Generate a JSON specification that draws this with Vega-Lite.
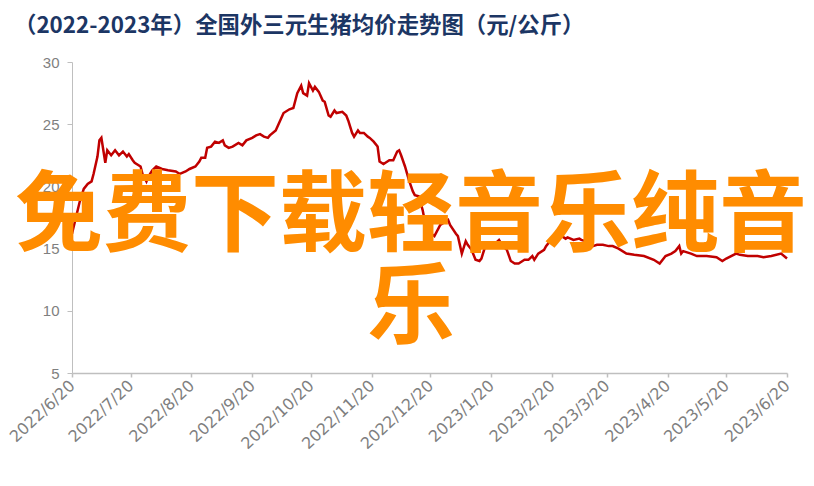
{
  "$schema": "https://vega.github.io/schema/vega-lite/v6.json",
  "autosize": {"type": "none"},
  "width": 715,
  "height": 311,
  "padding": {"left": 72, "top": 62, "right": 27, "bottom": 113},
  "background": "#ffffff",
  "config": {"view": {"stroke": null}},
  "title": {
    "text": "（2022-2023年）全国外三元生猪均价走势图（元/公斤）",
    "anchor": "start",
    "frame": "group",
    "dx": -58,
    "offset": 0,
    "baseline": "alphabetic",
    "font": "Noto Sans CJK SC",
    "fontSize": 22.4,
    "fontWeight": "bold",
    "color": "#1c3664"
  },
  "datasets": {
    "price": [
      {"date": "2022-06-20", "value": 16.2},
      {"date": "2022-06-22", "value": 17.5},
      {"date": "2022-06-24", "value": 18.8},
      {"date": "2022-06-26", "value": 19.8},
      {"date": "2022-06-28", "value": 20.2},
      {"date": "2022-06-30", "value": 20.4},
      {"date": "2022-07-01", "value": 21.0},
      {"date": "2022-07-03", "value": 22.4},
      {"date": "2022-07-04", "value": 23.7},
      {"date": "2022-07-05", "value": 23.9},
      {"date": "2022-07-07", "value": 21.9},
      {"date": "2022-07-08", "value": 22.9},
      {"date": "2022-07-10", "value": 22.5},
      {"date": "2022-07-12", "value": 22.9},
      {"date": "2022-07-14", "value": 22.5},
      {"date": "2022-07-16", "value": 22.8},
      {"date": "2022-07-18", "value": 22.4},
      {"date": "2022-07-19", "value": 22.6},
      {"date": "2022-07-21", "value": 22.1},
      {"date": "2022-07-22", "value": 21.9},
      {"date": "2022-07-25", "value": 21.6},
      {"date": "2022-07-26", "value": 21.0},
      {"date": "2022-07-28", "value": 20.4},
      {"date": "2022-07-29", "value": 20.8},
      {"date": "2022-07-31", "value": 21.3},
      {"date": "2022-08-02", "value": 21.6},
      {"date": "2022-08-05", "value": 21.4},
      {"date": "2022-08-08", "value": 21.3},
      {"date": "2022-08-12", "value": 21.2},
      {"date": "2022-08-14", "value": 21.0},
      {"date": "2022-08-17", "value": 21.2},
      {"date": "2022-08-19", "value": 21.4},
      {"date": "2022-08-22", "value": 21.6},
      {"date": "2022-08-24", "value": 22.0},
      {"date": "2022-08-25", "value": 22.3},
      {"date": "2022-08-27", "value": 22.3},
      {"date": "2022-08-28", "value": 23.1},
      {"date": "2022-08-30", "value": 23.2},
      {"date": "2022-09-01", "value": 23.6},
      {"date": "2022-09-03", "value": 23.5},
      {"date": "2022-09-05", "value": 23.7},
      {"date": "2022-09-06", "value": 23.3},
      {"date": "2022-09-08", "value": 23.1},
      {"date": "2022-09-10", "value": 23.2},
      {"date": "2022-09-13", "value": 23.5},
      {"date": "2022-09-15", "value": 23.3},
      {"date": "2022-09-17", "value": 23.7},
      {"date": "2022-09-20", "value": 23.9},
      {"date": "2022-09-22", "value": 24.1},
      {"date": "2022-09-24", "value": 24.2},
      {"date": "2022-09-26", "value": 24.0},
      {"date": "2022-09-28", "value": 23.9},
      {"date": "2022-09-29", "value": 24.1},
      {"date": "2022-10-02", "value": 24.5},
      {"date": "2022-10-04", "value": 25.2},
      {"date": "2022-10-06", "value": 25.9},
      {"date": "2022-10-09", "value": 26.2},
      {"date": "2022-10-11", "value": 26.3},
      {"date": "2022-10-13", "value": 27.5},
      {"date": "2022-10-15", "value": 28.1},
      {"date": "2022-10-16", "value": 27.5},
      {"date": "2022-10-18", "value": 27.3},
      {"date": "2022-10-19", "value": 28.3},
      {"date": "2022-10-21", "value": 27.7},
      {"date": "2022-10-22", "value": 28.0},
      {"date": "2022-10-24", "value": 27.6},
      {"date": "2022-10-26", "value": 26.9},
      {"date": "2022-10-27", "value": 26.8},
      {"date": "2022-10-29", "value": 25.7},
      {"date": "2022-10-30", "value": 25.6},
      {"date": "2022-11-01", "value": 26.1},
      {"date": "2022-11-02", "value": 25.9},
      {"date": "2022-11-05", "value": 26.0},
      {"date": "2022-11-07", "value": 25.7},
      {"date": "2022-11-08", "value": 25.3},
      {"date": "2022-11-10", "value": 24.3},
      {"date": "2022-11-11", "value": 24.0},
      {"date": "2022-11-13", "value": 24.5},
      {"date": "2022-11-14", "value": 24.3},
      {"date": "2022-11-16", "value": 24.3},
      {"date": "2022-11-18", "value": 24.0},
      {"date": "2022-11-19", "value": 23.9},
      {"date": "2022-11-21", "value": 23.6},
      {"date": "2022-11-23", "value": 23.2},
      {"date": "2022-11-24", "value": 22.0},
      {"date": "2022-11-26", "value": 21.8},
      {"date": "2022-11-28", "value": 22.0},
      {"date": "2022-11-29", "value": 22.1},
      {"date": "2022-12-01", "value": 22.1},
      {"date": "2022-12-03", "value": 22.8},
      {"date": "2022-12-04", "value": 22.9},
      {"date": "2022-12-05", "value": 22.5},
      {"date": "2022-12-07", "value": 21.6},
      {"date": "2022-12-09", "value": 20.5},
      {"date": "2022-12-11", "value": 19.6},
      {"date": "2022-12-12", "value": 19.3},
      {"date": "2022-12-14", "value": 19.2},
      {"date": "2022-12-16", "value": 18.1},
      {"date": "2022-12-18", "value": 16.5},
      {"date": "2022-12-22", "value": 16.0},
      {"date": "2022-12-25", "value": 16.9},
      {"date": "2022-12-28", "value": 17.2},
      {"date": "2022-12-29", "value": 17.3},
      {"date": "2022-12-30", "value": 16.9},
      {"date": "2023-01-02", "value": 16.2},
      {"date": "2023-01-03", "value": 16.0},
      {"date": "2023-01-05", "value": 14.6},
      {"date": "2023-01-07", "value": 15.6},
      {"date": "2023-01-08", "value": 15.3},
      {"date": "2023-01-10", "value": 14.9},
      {"date": "2023-01-12", "value": 14.1},
      {"date": "2023-01-14", "value": 14.0},
      {"date": "2023-01-15", "value": 14.2},
      {"date": "2023-01-17", "value": 15.2},
      {"date": "2023-01-19", "value": 15.3},
      {"date": "2023-01-20", "value": 15.2},
      {"date": "2023-01-22", "value": 15.4},
      {"date": "2023-01-24", "value": 15.7},
      {"date": "2023-01-26", "value": 15.2},
      {"date": "2023-01-28", "value": 14.9},
      {"date": "2023-01-30", "value": 14.0},
      {"date": "2023-02-01", "value": 13.8},
      {"date": "2023-02-03", "value": 13.8},
      {"date": "2023-02-05", "value": 14.0},
      {"date": "2023-02-06", "value": 14.1},
      {"date": "2023-02-08", "value": 14.1},
      {"date": "2023-02-10", "value": 14.4},
      {"date": "2023-02-11", "value": 14.1},
      {"date": "2023-02-13", "value": 14.6},
      {"date": "2023-02-16", "value": 14.9},
      {"date": "2023-02-17", "value": 15.2},
      {"date": "2023-02-19", "value": 15.6},
      {"date": "2023-02-22", "value": 15.7},
      {"date": "2023-02-23", "value": 15.7},
      {"date": "2023-02-25", "value": 16.0},
      {"date": "2023-02-27", "value": 15.8},
      {"date": "2023-02-28", "value": 15.9},
      {"date": "2023-03-03", "value": 15.7},
      {"date": "2023-03-06", "value": 15.8},
      {"date": "2023-03-07", "value": 15.7},
      {"date": "2023-03-09", "value": 15.6},
      {"date": "2023-03-12", "value": 15.4},
      {"date": "2023-03-13", "value": 15.2},
      {"date": "2023-03-15", "value": 15.3},
      {"date": "2023-03-18", "value": 15.3},
      {"date": "2023-03-21", "value": 15.2},
      {"date": "2023-03-23", "value": 15.2},
      {"date": "2023-03-26", "value": 15.0},
      {"date": "2023-03-30", "value": 14.6},
      {"date": "2023-04-03", "value": 14.5},
      {"date": "2023-04-08", "value": 14.4},
      {"date": "2023-04-13", "value": 14.1},
      {"date": "2023-04-16", "value": 13.8},
      {"date": "2023-04-19", "value": 14.4},
      {"date": "2023-04-22", "value": 14.6},
      {"date": "2023-04-24", "value": 14.8},
      {"date": "2023-04-26", "value": 15.2},
      {"date": "2023-04-27", "value": 14.6},
      {"date": "2023-04-28", "value": 14.8},
      {"date": "2023-05-02", "value": 14.6},
      {"date": "2023-05-05", "value": 14.4},
      {"date": "2023-05-10", "value": 14.4},
      {"date": "2023-05-15", "value": 14.3},
      {"date": "2023-05-18", "value": 14.0},
      {"date": "2023-05-20", "value": 14.2},
      {"date": "2023-05-25", "value": 14.6},
      {"date": "2023-05-27", "value": 14.5},
      {"date": "2023-05-31", "value": 14.4},
      {"date": "2023-06-05", "value": 14.4},
      {"date": "2023-06-08", "value": 14.3},
      {"date": "2023-06-12", "value": 14.4},
      {"date": "2023-06-17", "value": 14.6},
      {"date": "2023-06-20", "value": 14.2}
    ],
    "overlay": [
      {"date": "2022-12-10", "value": 17.5, "label": "免费下载轻音乐纯音"},
      {"date": "2022-12-10", "value": 10.1, "label": "乐"}
    ]
  },
  "encoding": {
    "x": {
      "field": "date",
      "type": "temporal",
      "scale": {
        "type": "utc",
        "domain": [
          {"year": 2022, "month": 6, "date": 20, "utc": true},
          {"year": 2023, "month": 6, "date": 20, "utc": true}
        ],
        "nice": false
      },
      "axis": {
        "title": null,
        "grid": false,
        "values": [
          {"year": 2022, "month": 6, "date": 20, "utc": true},
          {"year": 2022, "month": 7, "date": 20, "utc": true},
          {"year": 2022, "month": 8, "date": 20, "utc": true},
          {"year": 2022, "month": 9, "date": 20, "utc": true},
          {"year": 2022, "month": 10, "date": 20, "utc": true},
          {"year": 2022, "month": 11, "date": 20, "utc": true},
          {"year": 2022, "month": 12, "date": 20, "utc": true},
          {"year": 2023, "month": 1, "date": 20, "utc": true},
          {"year": 2023, "month": 2, "date": 20, "utc": true},
          {"year": 2023, "month": 3, "date": 20, "utc": true},
          {"year": 2023, "month": 4, "date": 20, "utc": true},
          {"year": 2023, "month": 5, "date": 20, "utc": true},
          {"year": 2023, "month": 6, "date": 20, "utc": true}
        ],
        "format": "%Y/%-m/%-d",
        "labelAngle": -43,
        "labelAlign": "right",
        "labelBaseline": "middle",
        "labelFont": "DejaVu Sans",
        "labelFontSize": 16,
        "labelColor": "#7f7f7f",
        "labelPadding": 6,
        "labelOverlap": false,
        "labelFlush": false,
        "domainColor": "#bfbfbf",
        "domainWidth": 1.5,
        "tickColor": "#bfbfbf",
        "tickSize": 4,
        "tickWidth": 1.5
      }
    },
    "y": {
      "field": "value",
      "type": "quantitative",
      "scale": {"domain": [5, 30], "nice": false, "zero": false},
      "axis": {
        "title": null,
        "grid": false,
        "values": [5, 10, 15, 20, 25, 30],
        "labelFont": "Liberation Sans",
        "labelFontSize": 15,
        "labelColor": "#7f7f7f",
        "labelPadding": 8,
        "domainColor": "#bfbfbf",
        "domainWidth": 1,
        "tickColor": "#bfbfbf",
        "tickSize": 5
      }
    }
  },
  "layer": [
    {
      "data": {"name": "price"},
      "mark": {"type": "line", "color": "#c00000", "strokeWidth": 2.5, "interpolate": "linear"}
    },
    {
      "data": {"name": "overlay"},
      "mark": {
        "type": "text",
        "font": "Noto Sans CJK SC",
        "fontSize": 88,
        "fontWeight": "bold",
        "color": "#ff8c00",
        "align": "center",
        "baseline": "middle"
      },
      "encoding": {"text": {"field": "label", "type": "nominal"}}
    }
  ]
}
